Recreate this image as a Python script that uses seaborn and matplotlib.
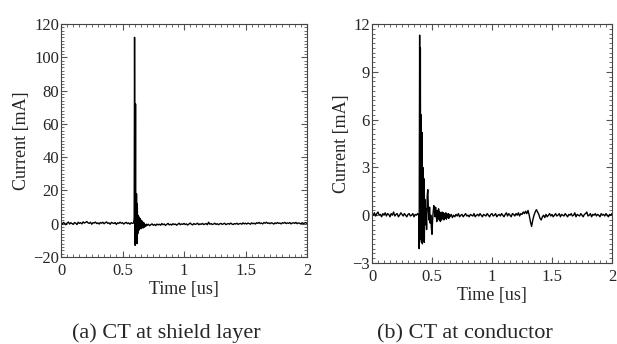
import numpy as np
import pandas as pd
import seaborn as sns
import matplotlib
matplotlib.use("Agg")
import matplotlib.pyplot as plt
from matplotlib.ticker import MultipleLocator

# ---- (a) CT at shield layer : current [mA] vs time [us]
shield_pre_t = np.round(np.arange(0.0, 0.595, 0.01), 3)
shield_pre_i = [0.5, -0.3, 0.8, 0.2, -0.6, 0.4, 1.0, -0.2, 0.6, 0.1,
                -0.4, 0.7, 0.3, -0.5, 0.9, 0.2, 0.6, -0.1, 1.1, 0.4,
                0.8, 1.3, 0.5, 0.2, 0.9, -0.3, 0.6, 0.4, 1.0, 0.1,
                0.5, -0.2, 0.7, 0.3, 0.9, 0.0, 0.6, 1.1, 0.2, 0.5,
                -0.3, 0.8, 0.4, 0.1, 0.7, -0.4, 0.5, 0.2, 0.9, 0.3,
                0.6, -0.2, 0.4, 0.8, 0.1, 0.5, -0.3, 0.6, 0.2, 0.4]
shield_spike_t = [0.595, 0.598, 0.601, 0.603, 0.606, 0.608, 0.611, 0.614,
                  0.617, 0.620, 0.624, 0.628, 0.632, 0.636, 0.640, 0.645,
                  0.650, 0.655, 0.660, 0.665, 0.670, 0.675, 0.680, 0.685,
                  0.690, 0.695]
shield_spike_i = [3, 112, 40, -13, 72, 5, -10, 18,
                  -12, 12, -6, 5, -4, 4, -3, 3,
                  -3, 2, -2.5, 1, -2.5, 0.5, -2, -0.5,
                  -1.5, -0.3]
shield_post_t = np.round(np.arange(0.70, 2.005, 0.01), 3)
shield_post_i = [-1.0, -0.3, -1.2, -0.6, -0.1, -0.9, -0.4, -1.1, -0.2, -0.7,
                 -0.3, -0.9, 0.1, -0.6, -0.2, -1.0, -0.4, 0.2, -0.7, -0.3,
                 -0.8, 0.0, -0.5, -0.2, -0.9, -0.3, 0.3, -0.6, -0.1, -0.4,
                 0.2, -0.5, -0.1, -0.8, -0.2, 0.4, -0.3, -0.7, 0.1, -0.4,
                 -0.2, 0.3, -0.6, -0.1, -0.4, 0.2, -0.5, -0.2, 0.1, -0.6,
                 0.9, -0.3, 0.1, -0.5, -0.2, 0.3, -0.4, 0.0, -0.6, -0.1,
                 0.2, -0.4, -0.1, 0.3, -0.5, -0.2, 0.1, -0.3, 0.4, -0.2,
                 -0.5, 0.1, -0.2, 0.3, -0.4, 0.0, 0.2, -0.3, 0.5, -0.1,
                 0.3, -0.2, 0.4, 0.1, -0.3, 0.5, 0.0, 0.3, -0.2, 0.6,
                 0.2, 0.8, 0.1, 0.4, -0.1, 0.7, 0.3, 0.9, 0.2, 0.5,
                 0.0, 0.6, 0.3, -0.2, 0.5, 0.1, 0.7, 0.2, 0.4, -0.1,
                 0.6, 0.3, 0.8, 0.1, 0.5, 0.2, 0.7, -0.1, 0.4, 0.6,
                 0.2, 0.8, 0.0, 0.5, 0.3, -0.2, 0.6, 0.1, 0.4, 0.7,
                 0.2]

# ---- (b) CT at conductor
cond_pre_t = np.round(np.arange(0.0, 0.385, 0.01), 3)
cond_pre_i = [0.1, 0.0, 0.15, -0.05, 0.1, 0.2, 0.0, 0.05, -0.1, 0.1,
              0.0, 0.15, -0.05, 0.1, 0.05, -0.1, 0.1, 0.0, 0.2, -0.05,
              0.05, 0.1, -0.1, 0.0, 0.15, 0.05, -0.05, 0.1, 0.0, -0.1,
              0.05, 0.1, -0.05, 0.0, 0.1, -0.1, 0.05, 0.0, 0.1]
cond_spike_t = [0.390, 0.393, 0.397, 0.400, 0.403, 0.406, 0.409, 0.412,
                0.416, 0.420, 0.424, 0.428, 0.432, 0.436, 0.440, 0.445,
                0.450, 0.455, 0.460, 0.465, 0.470, 0.475, 0.480, 0.485,
                0.490, 0.495, 0.500, 0.505, 0.510, 0.515, 0.520, 0.525,
                0.530, 0.535, 0.540, 0.545, 0.550, 0.555, 0.560, 0.565,
                0.570, 0.575, 0.580, 0.585, 0.590, 0.595, 0.600, 0.605,
                0.610, 0.615, 0.620, 0.625, 0.630, 0.635, 0.640, 0.645]
cond_spike_i = [0.0, -2.1, 11.3, -1.0, 10.5, -1.5, 6.3, -1.7,
                5.2, -1.8, 3.0, -1.6, 2.3, -1.7, 1.0, -0.6,
                0.4, -0.9, 1.2, 1.6, 0.3, -0.3, 0.5, -0.5,
                0.0, -0.8, -1.2, -0.3, 0.2, 0.6, 0.4, -0.1,
                0.5, 0.0, -0.4, 0.3, -0.2, 0.4, -0.3, 0.2,
                -0.4, 0.1, -0.3, 0.2, -0.2, 0.15, -0.3, 0.1,
                -0.2, 0.15, -0.25, 0.05, -0.15, 0.1, -0.2, 0.05]
cond_post_t = np.round(np.arange(0.65, 2.005, 0.01), 3)
cond_post_i = [-0.1, 0.05, -0.15, 0.0, -0.1, 0.05, -0.05, 0.1, -0.1, 0.0,
               0.05, -0.1, 0.0, 0.1, -0.05, 0.0, -0.1, 0.05, 0.0, -0.05,
               0.1, -0.1, 0.0, 0.05, -0.05, 0.1, 0.0, -0.1, 0.05, 0.0,
               -0.05, 0.1, 0.0, -0.1, 0.05, 0.1, -0.05, 0.0, 0.1, -0.1,
               0.0, 0.05, -0.05, 0.1, 0.0, -0.1, 0.05, 0.15, -0.05, 0.1,
               0.0, -0.1, 0.1, 0.05, -0.05, 0.1, 0.0, 0.15, -0.05, 0.1,
               0.05, 0.2, 0.1, 0.25, 0.1, 0.3, 0.0, -0.4, -0.7, -0.3,
               0.0, 0.2, 0.35, 0.2, 0.05, -0.2, -0.3, -0.1, 0.0, -0.15,
               0.05, -0.1, 0.0, 0.1, -0.05, 0.05, -0.1, 0.0, 0.1, -0.05,
               0.0, 0.1, -0.1, 0.05, 0.0, -0.05, 0.1, 0.0, -0.1, 0.05,
               0.0, 0.1, -0.05, 0.0, 0.15, -0.1, 0.05, 0.0, -0.05, 0.1,
               0.0, -0.1, 0.05, 0.1, 0.2, -0.05, 0.0, 0.1, -0.1, 0.05,
               0.0, 0.1, -0.05, 0.05, 0.0, -0.1, 0.1, 0.0, 0.05, -0.05,
               0.1, 0.0, -0.1, 0.05, 0.0, 0.1]

x_ticks = [0, 0.5, 1, 1.5, 2]
x_ticklabels = ["0", "0.5", "1", "1.5", "2"]
captions = ["(a) CT at shield layer", "(b) CT at conductor"]

sns.set_theme(style="ticks")
plt.rcParams["font.family"] = ["Liberation Serif", "DejaVu Serif"]

shield = pd.DataFrame({
    "t": np.concatenate([shield_pre_t, shield_spike_t, shield_post_t]),
    "i": np.concatenate([shield_pre_i, shield_spike_i, shield_post_i])})
cond = pd.DataFrame({
    "t": np.concatenate([cond_pre_t, cond_spike_t, cond_post_t]),
    "i": np.concatenate([cond_pre_i, cond_spike_i, cond_post_i])})

fig = plt.figure(figsize=(6.17, 3.44), dpi=100)
ax1 = fig.add_axes([61 / 617, 1 - 257 / 344, 246 / 617, 233 / 344])
ax2 = fig.add_axes([372 / 617, 1 - 263 / 344, 240 / 617, 239 / 344])

sns.lineplot(data=shield, x="t", y="i", ax=ax1, color="black", lw=1.0,
             estimator=None, sort=False)
sns.lineplot(data=cond, x="t", y="i", ax=ax2, color="black", lw=1.0,
             estimator=None, sort=False)

ax1.set_ylim(-20, 120)
ax1.yaxis.set_major_locator(MultipleLocator(20))
ax1.yaxis.set_minor_locator(MultipleLocator(2))
ax2.set_ylim(-3, 12)
ax2.yaxis.set_major_locator(MultipleLocator(3))
ax2.yaxis.set_minor_locator(MultipleLocator(0.3))

for ax in (ax1, ax2):
    ax.set_xlim(0, 2)
    ax.set_xticks(x_ticks)
    ax.set_xticklabels(x_ticklabels)
    ax.xaxis.set_minor_locator(MultipleLocator(0.05))
    ax.tick_params(which="both", direction="in", top=True, right=True,
                   labelsize=12, color="#555555")
    ax.tick_params(axis="x", pad=4.5)
    ax.tick_params(axis="y", pad=1.5)
    ax.tick_params(which="major", length=4, width=0.8)
    ax.tick_params(which="minor", length=2, width=0.6)
    for s in ax.spines.values():
        s.set_color("#444444")
        s.set_linewidth(0.8)
    ax.set_xlabel("Time [us]", fontsize=13, labelpad=1)
    ax.set_ylabel("Current [mA]", fontsize=13, labelpad=2)

fig.text(166 / 617, 1 - 338 / 344, captions[0], ha="center", va="baseline",
         fontsize=16)
fig.text(465 / 617, 1 - 338 / 344, captions[1], ha="center", va="baseline",
         fontsize=16)

fig.savefig("out.png", dpi=100)
